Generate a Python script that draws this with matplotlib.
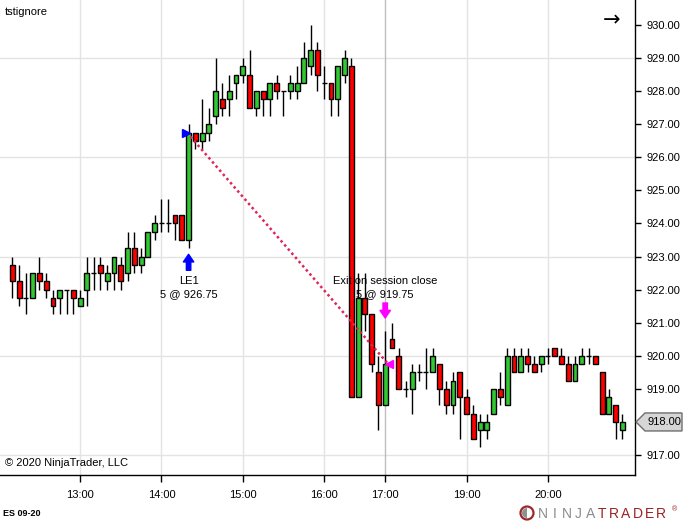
import matplotlib
matplotlib.use('Agg')
import matplotlib.pyplot as plt
from matplotlib.transforms import offset_copy, IdentityTransform
from matplotlib.patches import Polygon, Circle, Wedge

plt.rcParams['font.family'] = ['Liberation Sans', 'DejaVu Sans']

# ---------------- data (5-minute ES 09-20 bars) ----------------
opens = [922.75, 922.25, 921.75, 921.75, 922.5, 922.25, 921.75, 921.75, 922, 922,
         921.5, 922, 922.5, 922.75, 922.25, 922.5, 922.75, 922.5, 923.25, 922.75,
         923, 923.75, 924, 924, 924.25, 924.25, 923.5, 926.75, 926.5, 926.75,
         927.25, 927.75, 927.75, 928.25, 928.5, 928.5, 927.5, 928, 927.75, 928.25,
         928, 928, 928, 928.25, 928.75, 929.25, 928.25, 928.25, 927.75, 928.5,
         928.75, 918.75, 921.75, 921.25, 919.5, 918.5, 920.5, 920, 919, 919,
         919.5, 919.5, 919.5, 919.75, 919, 918.5, 919.5, 918.75, 918.25, 917.75,
         917.75, 918.25, 919, 918.5, 920, 919.5, 920, 919.75, 919.75, 920,
         920.25, 920, 919.75, 919.25, 919.75, 920, 920, 919.5, 918.25, 918.5,
         917.75]
highs = [923, 922.75, 922.5, 922.5, 923, 922.5, 922, 922, 922, 922,
         922, 923, 923, 923, 922.75, 923, 923, 923.75, 923.75, 923.25,
         923.75, 924.25, 924.75, 924.75, 924.25, 924.25, 927, 926.75, 927.75, 927.5,
         929, 928.25, 928.5, 928.5, 929, 929.25, 928, 928, 928.25, 928.5,
         928, 928.5, 928.75, 929.5, 930, 929.5, 928.75, 928.25, 928.75, 929.25,
         929, 922.5, 922.5, 921.25, 920, 920.75, 921, 920.25, 919.25, 919.75,
         919.75, 920.25, 920.25, 919.75, 919.25, 919.5, 919.5, 919, 918.5, 918.25,
         918.25, 919, 919.5, 920.25, 920.25, 920.25, 920.25, 920, 920, 920.25,
         920.25, 920.25, 920, 920, 920.25, 920.25, 920, 919.5, 919, 918.5,
         918.25]
lows = [921.75, 921.5, 921.25, 921.75, 922, 921.75, 921.25, 921.25, 921.25, 921.25,
        921.5, 921.5, 922, 922, 922, 922, 922, 922.25, 922.5, 922.5,
        923, 923.5, 923.75, 923.75, 923.5, 923.5, 923.25, 926.25, 926.25, 926.5,
        927, 927.25, 927.25, 927.75, 928.25, 927.5, 927.25, 927.25, 927.25, 927.75,
        927.25, 927.75, 927.75, 928.25, 928.5, 928, 927.75, 927.25, 927.25, 928.25,
        918.75, 918.75, 920.75, 919.5, 917.75, 918.5, 920.25, 919, 918.75, 918.25,
        919.25, 919, 919.5, 918.5, 918.25, 918.25, 917.5, 918.25, 917.5, 917.25,
        917.5, 918.25, 918.5, 918.5, 919.5, 919.5, 919.5, 919.5, 919.5, 919.75,
        920, 919.75, 919.25, 919.25, 919.75, 919.75, 919.75, 918.25, 918.25, 917.5,
        917.5]
closes = [922.25, 921.75, 921.75, 922.5, 922.25, 922, 921.5, 922, 922, 921.75,
          921.75, 922.5, 922.5, 922.5, 922.5, 923, 922.25, 923.25, 922.75, 923,
          923.75, 924, 924, 924, 924, 923.5, 926.75, 926.5, 926.75, 927,
          928, 927.5, 928, 928.5, 928.75, 927.5, 928, 927.75, 928.25, 928,
          928, 928.25, 928.25, 929, 929.25, 928.5, 928.25, 927.75, 928.75, 929,
          918.75, 921.75, 921.25, 919.75, 918.5, 919.75, 920.25, 919, 919, 919.5,
          919.5, 919.5, 920, 919, 918.5, 919.25, 918.75, 918.25, 917.5, 918,
          918, 919, 918.75, 920, 919.5, 920, 919.75, 919.5, 920, 920,
          920, 919.75, 919.25, 919.75, 920, 920, 919.75, 918.25, 918.75, 918,
          918]

time_tick_bars = [11, 23, 35, 47, 56, 68, 80]
time_tick_labels = ['13:00', '14:00', '15:00', '16:00', '17:00', '19:00', '20:00']
session_break_bar = 56
price_ticks = [917, 918, 919, 920, 921, 922, 923, 924, 925, 926, 927, 928, 929, 930]
grid_prices = [917, 920, 923, 926, 929]

entry_bar, entry_price, entry_qty, entry_name = 27, 926.75, 5, 'LE1'
exit_bar, exit_price, exit_qty, exit_name = 56, 919.75, 5, 'Exit on session close'
last_price = 918.00

# ---------------- figure ----------------
W, H = 683, 522
fig = plt.figure(figsize=(W / 100, H / 100), dpi=100)
fig.patch.set_facecolor('white')
ax = fig.add_axes([0, 47 / H, 635 / W, 475 / H])
ax.set_facecolor('white')

n = len(opens)
xs = list(range(1, n + 1))
ax.set_xlim(1 - 12.3 / 6.78, 1 + 622.7 / 6.78)
ax.set_ylim(930 - 450 / 33.08, 930 + 25 / 33.08)

# grid
for p in grid_prices:
    ax.axhline(p, color='#e3e3e3', lw=1, zorder=0)
for b in time_tick_bars:
    col = '#bdbdbd' if b == session_break_bar else '#e3e3e3'
    ax.axvline(b, color=col, lw=1, zorder=0)

# candles
up_col, dn_col = '#32c832', '#ff0000'
ax.vlines(xs, lows, highs, color='black', lw=1, zorder=2)
body_bottom = [min(o, c) for o, c in zip(opens, closes)]
body_h = [abs(c - o) for o, c in zip(opens, closes)]
colors = [up_col if c > o else (dn_col if c < o else 'black') for o, c in zip(opens, closes)]
ax.bar(xs, body_h, bottom=body_bottom, width=0.72, color=colors,
       edgecolor='black', linewidth=1, zorder=3)

# trade line
ax.plot([entry_bar - 0.25, exit_bar + 0.45], [entry_price, exit_price],
        linestyle=(0, (1, 1.2)), color='#e0245a', lw=1.8, zorder=4)

# execution markers
ax.plot([entry_bar - 0.35], [entry_price], marker='>', color='#0000ff',
        markersize=6, zorder=5, linestyle='none')
ax.plot([exit_bar + 0.5], [exit_price], marker='<', color='#ff00ff',
        markersize=6, zorder=5, linestyle='none')

low_e = lows[entry_bar - 1]
high_x = highs[exit_bar - 1]
ap = dict(arrowstyle='simple,head_length=0.55,head_width=0.75,tail_width=0.32',
          shrinkA=0, shrinkB=0)
ax.annotate('', xy=(entry_bar, low_e), xytext=(entry_bar, low_e),
            xycoords=offset_copy(ax.transData, fig=fig, y=-6, units='dots'),
            textcoords=offset_copy(ax.transData, fig=fig, y=-22, units='dots'),
            arrowprops=dict(ap, color='#0000ff'), zorder=6)
ax.annotate('', xy=(exit_bar, high_x), xytext=(exit_bar, high_x),
            xycoords=offset_copy(ax.transData, fig=fig, y=13, units='dots'),
            textcoords=offset_copy(ax.transData, fig=fig, y=28, units='dots'),
            arrowprops=dict(ap, color='#ff00ff'), zorder=6)

ax.text(entry_bar, low_e, entry_name, ha='center', va='center', fontsize=8,
        transform=offset_copy(ax.transData, fig=fig, y=-33, units='dots'), zorder=7)
ax.text(entry_bar, low_e, f'{entry_qty} @ {entry_price:.2f}', ha='center', va='center',
        fontsize=8, transform=offset_copy(ax.transData, fig=fig, y=-46, units='dots'), zorder=7)
ax.text(exit_bar, high_x, exit_name, ha='center', va='center', fontsize=8,
        transform=offset_copy(ax.transData, fig=fig, y=50, units='dots'), zorder=7)
ax.text(exit_bar, high_x, f'{exit_qty} @ {exit_price:.2f}', ha='center', va='center',
        fontsize=8, transform=offset_copy(ax.transData, fig=fig, y=37, units='dots'), zorder=7)

# axes styling
for s in ['left', 'top']:
    ax.spines[s].set_visible(False)
for s in ['right', 'bottom']:
    ax.spines[s].set_color('black')
    ax.spines[s].set_linewidth(1)
ax.yaxis.tick_right()
ax.set_yticks(price_ticks)
# the 918 label sits under the last-price tag, which shows the same value
ax.set_yticklabels(['' if p == last_price else f'{p:.2f}' for p in price_ticks])
ax.tick_params(axis='y', direction='out', length=4, width=1, pad=4, labelsize=8)
ax.set_xticks(time_tick_bars)
ax.set_xticklabels(time_tick_labels)
ax.tick_params(axis='x', direction='out', length=5, width=1, pad=6, labelsize=8)

# last price tag
yd = ax.transData.transform((0, last_price))[1]
tag = Polygon([(636, yd), (645, yd + 9), (682, yd + 9), (682, yd - 9), (645, yd - 9)],
              closed=True, facecolor='#d6d6d6', edgecolor='#6e6e6e', lw=1,
              transform=IdentityTransform(), zorder=5)
fig.add_artist(tag)
fig.text(648 / W, yd / H, f'{last_price:.2f}', ha='left', va='center', fontsize=8, zorder=6)

# chart texts
fig.text(5 / W, 1 - 12 / H, 'tstignore', ha='left', va='center', fontsize=8)
fig.text(612 / W, 1 - 20 / H, '→', ha='center', va='center', fontsize=15,
         family=['DejaVu Sans'])
fig.text(5 / W, 1 - 463 / H, '© 2020 NinjaTrader, LLC', ha='left', va='center', fontsize=8)
fig.text(3 / W, 1 - 513 / H, 'ES 09-20', ha='left', va='center', fontsize=6.5,
         fontweight='bold')

# logo
icon = Circle((527, H - 513), 6.5, transform=IdentityTransform(), facecolor='white',
              edgecolor='#9a2a2a', lw=1.6, zorder=5)
fig.add_artist(icon)
half = Wedge((527, H - 513), 5, 90, 270, transform=IdentityTransform(),
             facecolor='#8f8f8f', edgecolor='none', zorder=6)
fig.add_artist(half)
logo = 'NINJATRADER'
for k, ch in enumerate(logo):
    col = '#8c8c8c' if k < 5 else '#9a2222'
    fig.text((543 + k * 11.8) / W, 1 - 514 / H, ch, ha='center', va='center',
             fontsize=10, color=col)
fig.text(675 / W, 1 - 510 / H, '®', ha='center', va='center', fontsize=5, color='#9a2222')

fig.savefig('out.png', dpi=100, facecolor='white')
